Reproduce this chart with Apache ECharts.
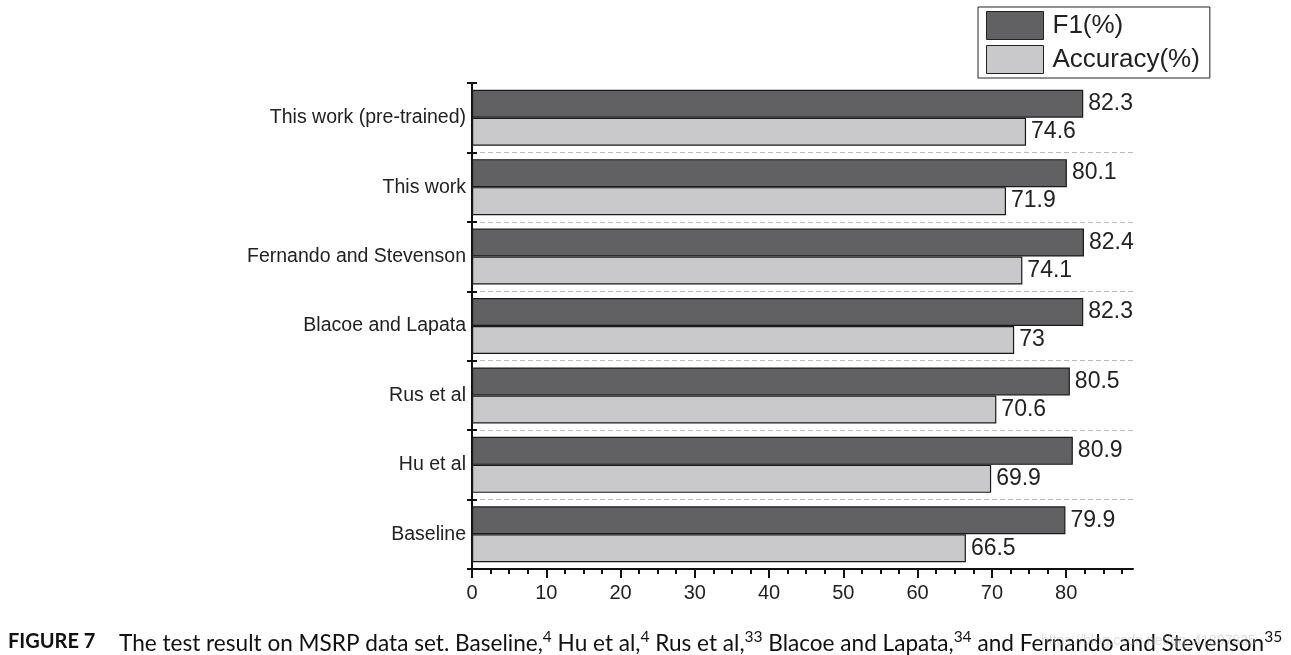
<!DOCTYPE html>
<html>
<head>
<meta charset="utf-8">
<script src="https://cdn.jsdelivr.net/npm/echarts@6/dist/echarts.min.js"></script>
<style>
html,body{margin:0;padding:0;background:#fff;}
#chart{width:1291px;height:655px;}
</style>
</head>
<body>
<div id="chart"></div>
<script>
const categories = ['Baseline', 'Hu et al', 'Rus et al', 'Blacoe and Lapata', 'Fernando and Stevenson', 'This work', 'This work (pre-trained)'];
const f1Values = [79.9, 80.9, 80.5, 82.3, 82.4, 80.1, 82.3];
const accValues = [66.5, 69.9, 70.6, 73, 74.1, 71.9, 74.6];
const xTickValues = [0, 10, 20, 30, 40, 50, 60, 70, 80];
const seriesNames = ['F1(%)', 'Accuracy(%)'];

const FONT = '"Liberation Sans", Arial, sans-serif';
const chart = echarts.init(document.getElementById('chart'), null, {renderer: 'canvas'});

const option = {
  backgroundColor: '#ffffff',
  animation: false,
  legend: {
    orient: 'vertical',
    left: 978, top: 7,
    padding: [4, 10, 4, 8],
    itemGap: 5,
    itemWidth: 57, itemHeight: 28,
    borderColor: '#222', borderWidth: 1,
    icon: 'rect',
    itemStyle: {borderColor: '#222', borderWidth: 1},
    textStyle: {fontFamily: FONT, fontSize: 26, color: '#222', padding: [2, 0, 0, 4]},
    data: seriesNames
  },
  grid: {left: 472, right: 158, top: 83, bottom: 86, containLabel: false},
  xAxis: {
    type: 'value', min: 0, max: 89, interval: 10,
    axisLine: {show: true, lineStyle: {color: '#111', width: 2}},
    axisTick: {show: true, length: 9, lineStyle: {color: '#111', width: 2}, customValues: xTickValues},
    minorTick: {show: true, splitNumber: 4, length: 5, lineStyle: {color: '#111', width: 2}},
    axisLabel: {customValues: xTickValues, fontFamily: FONT, fontSize: 20, color: '#222', margin: 14},
    splitLine: {show: false}
  },
  yAxis: [{
    type: 'category', data: categories, boundaryGap: true,
    axisLine: {show: true, lineStyle: {color: '#111', width: 2}},
    axisTick: {show: true, length: 5, lineStyle: {color: '#111', width: 2}},
    axisLabel: {fontFamily: FONT, fontSize: 19.5, color: '#222', margin: 6},
    splitLine: {show: true, showMinLine: false, showMaxLine: false, lineStyle: {color: '#bbb', type: [5, 3], width: 1}}
  }, {
    type: 'category', data: categories, boundaryGap: true, position: 'left',
    axisLine: {show: false},
    axisTick: {show: true, inside: true, length: 5, lineStyle: {color: '#111', width: 2}},
    axisLabel: {show: false},
    splitLine: {show: false}
  }],
  series: [{
    name: seriesNames[0], type: 'bar', data: f1Values, yAxisIndex: 0,
    barWidth: 28, barGap: '0%',
    itemStyle: {color: '#616163', borderColor: '#1a1a1a', borderWidth: 1.2},
    label: {show: true, position: 'right', distance: 5, fontFamily: FONT, fontSize: 23, color: '#222'}
  }, {
    name: seriesNames[1], type: 'bar', data: accValues, yAxisIndex: 0,
    barWidth: 28, barGap: '0%',
    itemStyle: {color: '#c9c9cb', borderColor: '#1a1a1a', borderWidth: 1.2},
    label: {show: true, position: 'right', distance: 5, fontFamily: FONT, fontSize: 23, color: '#222'}
  }],
  graphic: [{
    type: 'text', left: 1041, top: 634, z: 10,
    style: {text: 'https://blog.csdn.net/qq_41897835', font: '14px "Liberation Sans", Arial, sans-serif', fill: 'rgba(180,180,180,0.45)'}
  }, {
    type: 'text', left: 8, top: 632,
    style: {
      text: '{b|FIGURE 7}',
      rich: {b: {fontFamily: 'Lato', fontWeight: 'bold', fontSize: 20, fill: '#111', lineHeight: 26}}
    }
  }, {
    type: 'text', left: 119, top: 629,
    style: {
      text: '{t|The test result on MSRP data set. Baseline,}{s|4}{t| Hu et al,}{s|4}{t| Rus et al,}{s|33}{t| Blacoe and Lapata,}{s|34}{t| and Fernando and Stevenson}{s|35}',
      rich: {
        t: {fontFamily: 'Lato', fontSize: 22.6, fill: '#111', lineHeight: 30},
        s: {fontFamily: 'Lato', fontSize: 15.5, fill: '#111', lineHeight: 12, verticalAlign: 'top'}
      }
    }
  }]
};
chart.setOption(option);
</script>
</body>
</html>
